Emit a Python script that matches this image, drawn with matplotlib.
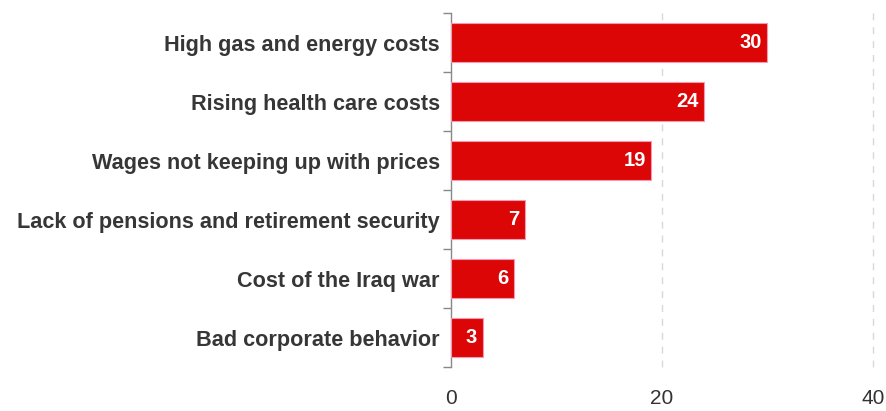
import matplotlib
matplotlib.use("Agg")
import matplotlib.pyplot as plt
import numpy as np

categories = ["High gas and energy costs", "Rising health care costs",
              "Wages not keeping up with prices", "Lack of pensions and retirement security",
              "Cost of the Iraq war", "Bad corporate behavior"]
values = [30, 24, 19, 7, 6, 3]
xticks = [0, 20, 40]

plt.rcParams['font.family'] = ['Liberation Sans', 'DejaVu Sans']

fig = plt.figure(figsize=(8.87, 4.11), dpi=100)
ax = fig.add_axes([451/887, 1-367/411, (873-451)/887, (367-13)/411])

n = len(categories)
y = np.arange(n)
ax.barh(y, values, height=0.65, color="#dc0606", edgecolor="#f39ab0", linewidth=0.8, zorder=3)
for yi, v in zip(y, values):
    ax.text(v - 0.55, yi, str(v), ha="right", va="center", color="white",
            fontsize=14.5, fontweight="bold", zorder=4)

ax.set_ylim(n - 0.5, -0.5)
ax.set_xlim(0, 40)
ax.set_yticks(y)
ax.set_yticklabels(categories, fontsize=15.6, fontweight="bold", color="#363636")
ax.set_yticks(np.arange(-0.5, n, 1), minor=True)
ax.tick_params(axis="y", which="major", length=0, pad=8)
ax.tick_params(axis="y", which="minor", length=6, color="#888888", width=1)
ax.set_xticks(xticks)
ax.set_xticklabels([str(t) for t in xticks], fontsize=15, color="#333333")
ax.tick_params(axis="x", length=0, pad=16)

for s in ["top", "right", "bottom"]:
    ax.spines[s].set_visible(False)
ax.spines["left"].set_color("#888888")
ax.spines["left"].set_linewidth(1)

for xv in xticks[1:]:
    ax.axvline(xv, color="#d8d8d8", linestyle=(0, (5, 5)), linewidth=1, zorder=1, clip_on=False)

fig.savefig("out.png", dpi=100)
